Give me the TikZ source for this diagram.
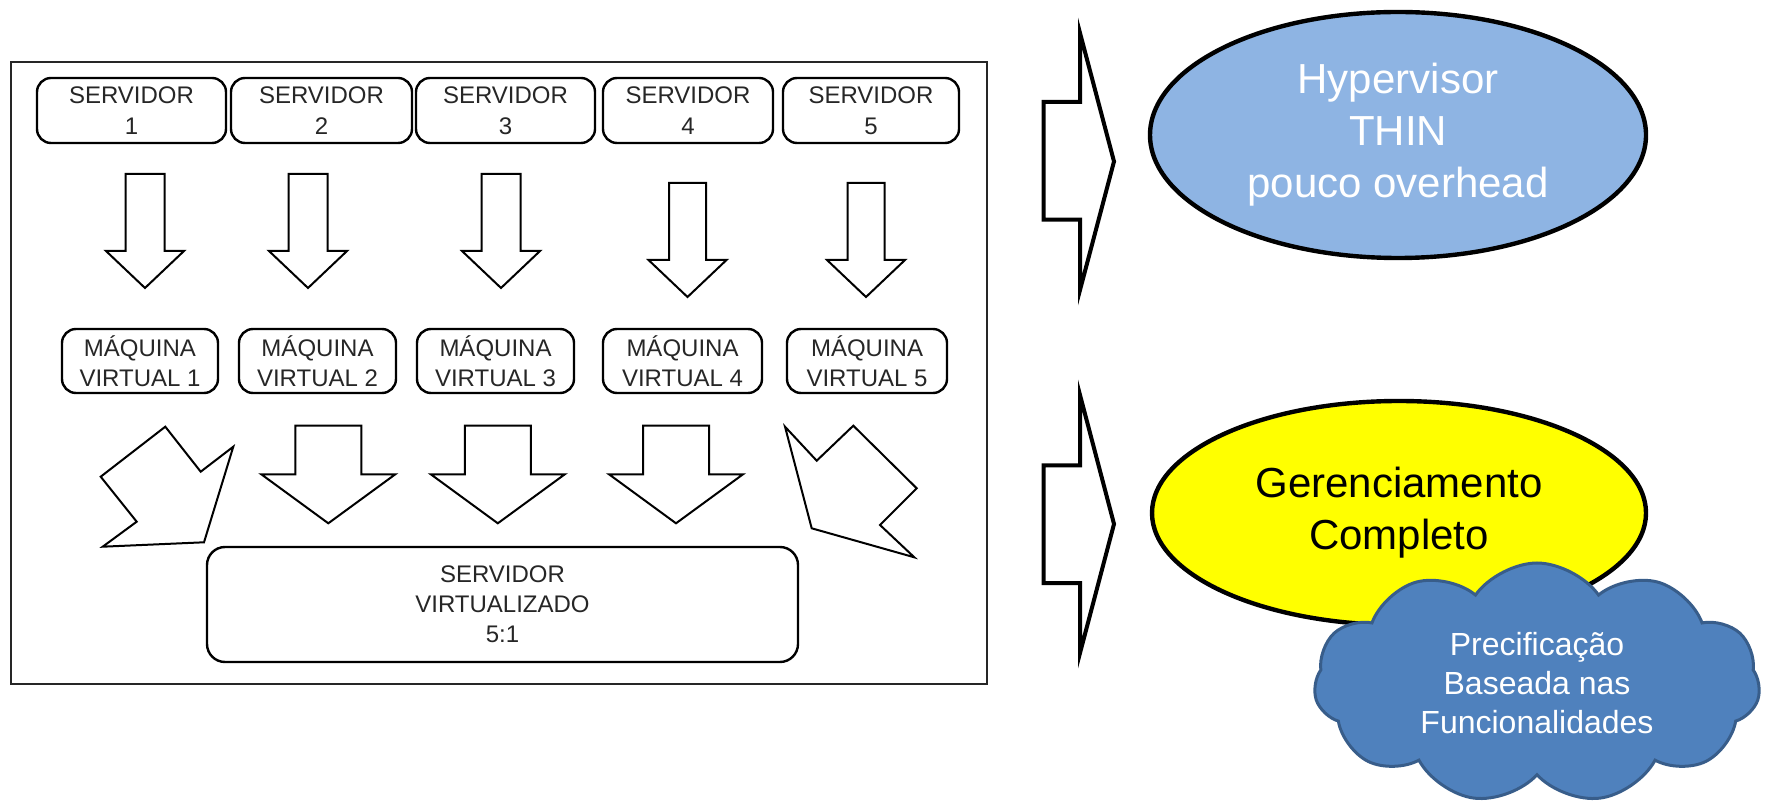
\documentclass[tikz,border=0pt]{standalone}
\usepackage{fontspec}
\setmainfont{Liberation Sans}
\usetikzlibrary{shapes}
\usetikzlibrary{shapes.geometric}
\usetikzlibrary{shapes.symbols}
\definecolor{ovalblue}{HTML}{8EB4E3}
\definecolor{sunyellow}{HTML}{FFFF00}
\definecolor{cloudblue}{HTML}{4F81BD}
\definecolor{cloudline}{HTML}{385D8A}
\definecolor{inkgray}{HTML}{262626}
\tikzstyle{frame} = [rectangle, draw=inkgray, line width=1pt, inner sep=0pt]
\tikzstyle{srv} = [rectangle, rounded corners=7pt, draw=black, line width=1.2pt,
align=center, text=inkgray, inner sep=0pt, minimum height=32.5pt,
font=\fontsize{12}{15.5}\selectfont]
\tikzstyle{vm} = [srv, minimum height=32pt, font=\fontsize{12}{15}\selectfont]
\tikzstyle{blockarrow} = [draw=black, line width=1pt, fill=white, line join=miter]
\tikzstyle{bigarrow} = [draw=black, line width=2pt, fill=white, line join=miter]
\tikzstyle{oval} = [ellipse, draw=black, line width=2.2pt, align=center,
inner sep=0pt, font=\fontsize{21}{26}\selectfont]
\tikzstyle{nuvem} = [cloud, cloud puffs=11, cloud puff arc=110, cloud ignores aspect,
draw=cloudline, line width=1.5pt, fill=cloudblue, text=white, align=center,
inner sep=0pt, font=\fontsize{16}{19.5}\selectfont]
\newcommand{\descer}[6]{ %
  % Down block arrow: centre x, top, half shaft, half head, head base, tip.
  \draw[blockarrow] (#1-#3,#2) -- (#1+#3,#2) -- (#1+#3,#5) -- (#1+#4,#5)
    -- (#1,#6) -- (#1-#4,#5) -- (#1-#3,#5) -- cycle ;%
}

\begin{document}
\begin{tikzpicture}[x=0.5pt,y=-0.5pt]
				\useasboundingbox (0,0) rectangle (1765,806);
				\node[frame, minimum width=488pt, minimum height=311pt] (quadro) at (499,373) {};

				\node[srv, minimum width=94.5pt] (s1) at (131.5,110.5) {SERVIDOR\\1};
				\node[srv, minimum width=90.5pt] (s2) at (321.5,110.5) {SERVIDOR\\2};
				\node[srv, minimum width=89.5pt] (s3) at (505.5,110.5) {SERVIDOR\\3};
				\node[srv, minimum width=85pt] (s4) at (688,110.5) {SERVIDOR\\4};
				\node[srv, minimum width=88pt] (s5) at (871,110.5) {SERVIDOR\\5};

				\foreach \cx in {145,308,501} {\descer{\cx}{174}{19.5}{39}{251}{288}}
				\foreach \cx in {687.5,866} {\descer{\cx}{183}{18.5}{39}{260}{297}}

				\node[vm, minimum width=78pt] (m1) at (140,361) {MÁQUINA\\VIRTUAL 1};
				\node[vm, minimum width=78.5pt] (m2) at (317.5,361) {MÁQUINA\\VIRTUAL 2};
				\node[vm, minimum width=78.5pt] (m3) at (495.5,361) {MÁQUINA\\VIRTUAL 3};
				\node[vm, minimum width=79.5pt] (m4) at (682.5,361) {MÁQUINA\\VIRTUAL 4};
				\node[vm, minimum width=80pt] (m5) at (867,361) {MÁQUINA\\VIRTUAL 5};

				\draw[blockarrow] (165.3,426.7) -- (100.7,476.7) -- (136.7,521.7) -- (102.7,546.7)
					-- (204,542.3) -- (233.3,446.7) -- (200.7,471.7) -- cycle;
				\foreach \cx in {328.3,497.8,676} {\descer{\cx}{425.7}{33}{67}{474.3}{523.3}}
				\draw[blockarrow] (785,426.7) -- (816.7,460.7) -- (853.3,425.7) -- (916.7,488.3)
					-- (880,525) -- (914.3,557.3) -- (811.7,528.3) -- cycle;

				\node[srv, minimum width=295.5pt, minimum height=57.5pt, rounded corners=9pt,
					font=\fontsize{12}{15}\selectfont] (sv) at (502.5,604.5) {SERVIDOR\\VIRTUALIZADO\\5:1};

				\draw[bigarrow] (1043.7,102) -- (1080,102) -- (1080,33) -- (1114,161.5)
					-- (1080,290) -- (1080,219.7) -- (1043.7,219.7) -- cycle;
				\draw[bigarrow] (1043.7,465.3) -- (1080,465.3) -- (1080,395) -- (1114,524)
					-- (1080,653) -- (1080,583) -- (1043.7,583) -- cycle;

				\node[oval, fill=ovalblue, text=white, minimum width=248pt, minimum height=123pt]
					(hyp) at (1398,135) {Hypervisor\\THIN\\pouco overhead};
				\node[oval, fill=sunyellow, text=black, minimum width=247pt, minimum height=112pt]
					(ger) at (1399,513) {Gerenciamento\\Completo};
				\node[nuvem, minimum width=223pt, minimum height=120pt] (prec) at (1537,683)
					{Precificação\\Baseada nas\\Funcionalidades};
\end{tikzpicture}
\end{document}
